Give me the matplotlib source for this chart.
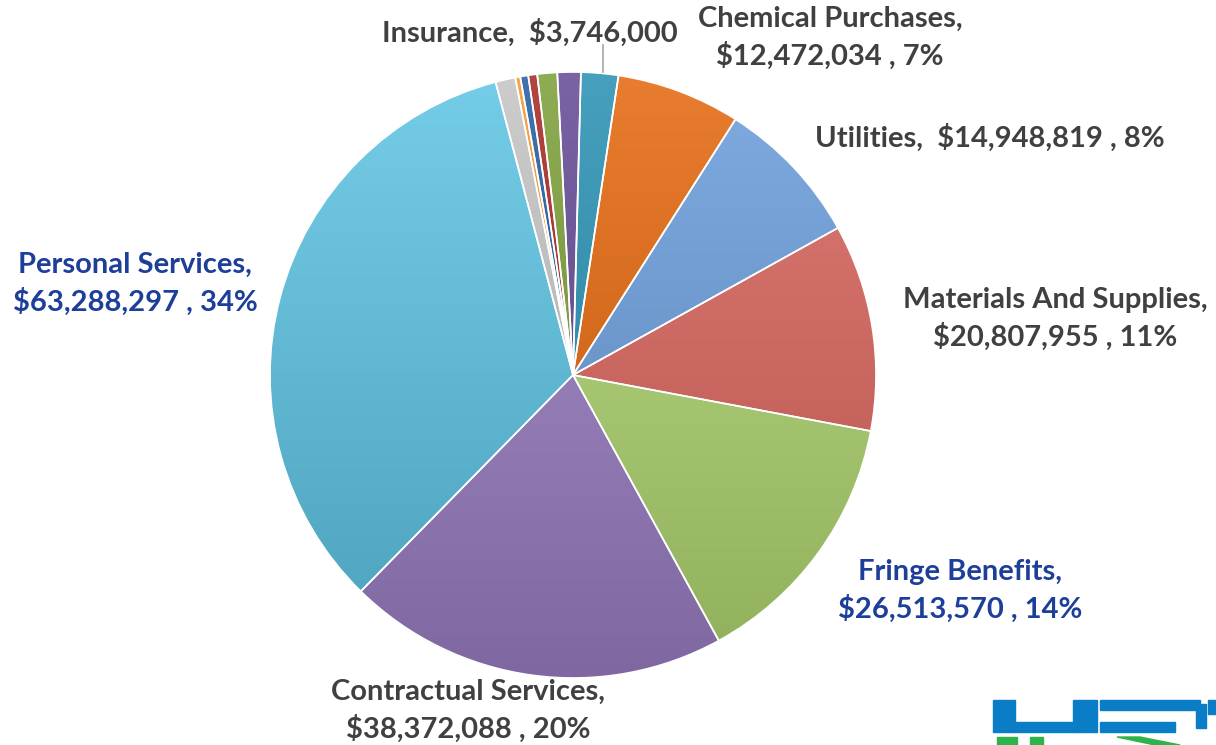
import numpy as np
import matplotlib
matplotlib.use("Agg")
import matplotlib.pyplot as plt
from matplotlib.colors import to_rgb
from matplotlib.patches import Rectangle, Polygon

# Expense categories, clockwise from the top of the pie
categories = ["Insurance", "Chemical Purchases", "Utilities", "Materials And Supplies",
              "Fringe Benefits", "Contractual Services", "Personal Services",
              "Other A", "Other B", "Other C", "Other D", "Other E", "Other F"]
amounts = [3746000, 12472034, 14948819, 20807955,
           26513570, 38372088, 63288297,
           2000000, 500000, 800000, 900000, 2000000, 2350000]
colors = ["#2690B2", "#E5660A", "#6A9DDC", "#DA645C",
          "#B0D670", "#9B7EC4", "#5CC4E4",
          "#C4C4C4", "#F7962E", "#1F5AA0", "#A8241F", "#7A9E36", "#624894"]

W, H = 1216, 745
fig = plt.figure(figsize=(W / 100, H / 100), dpi=100)
fig.patch.set_facecolor("white")

cx, cy, r = 573, 375, 303
ax = fig.add_axes([(cx - r) / W, (H - cy - r) / H, 2 * r / W, 2 * r / H])
ax.axis("off")

wedges, _ = ax.pie(amounts, colors=colors, startangle=88.5, counterclock=False,
                   radius=1.0, wedgeprops=dict(edgecolor="white", linewidth=1.2))

# vertical shading inside each wedge: lighter toward the top, darker toward the bottom
t = np.linspace(0, 1, 256)[:, None]
for w, c in zip(wedges, colors):
    base = np.array(to_rgb(c))
    light = base + (1 - base) * 0.15
    dark = base * 0.82
    grad = light[None, None, :] * (1 - t[..., None]) + dark[None, None, :] * t[..., None]
    grad = np.repeat(grad, 2, axis=1)
    im = ax.imshow(grad, extent=[-1, 1, -1, 1], origin="upper", zorder=1.5,
                   interpolation="bilinear")
    im.set_clip_path(w)
    w.set_zorder(2)
    w.set_facecolor("none")
ax.set_xlim(-1, 1)
ax.set_ylim(-1, 1)
ax.set_aspect("equal")

total = sum(amounts)


def px(x, y):
    return x / W, 1 - y / H


def label_text(i, pct=True):
    s = f"{categories[i]},\n${amounts[i]:,}"
    if pct:
        s += f" , {round(100 * amounts[i] / total)}%"
    return s


gray = "#404040"
navy = "#1E3F99"
font = dict(family="Lato", fontweight="bold", fontsize=21, linespacing=1.4,
            ha="center", va="center")

fig.text(*px(530, 33), f"{categories[0]},  ${amounts[0]:,}", color=gray, **font)
fig.text(*px(830, 38), label_text(1), color=gray, **font)
fig.text(*px(990, 138), label_text(2).replace(",\n", ",  "), color=gray, **font)
fig.text(*px(1055, 319), label_text(3), color=gray, **font)
fig.text(*px(960, 591), label_text(4), color=navy, **font)
fig.text(*px(468, 711), label_text(5), color=gray, **font)
fig.text(*px(135, 284), label_text(6), color=navy, **font)

# leader line for the insurance label
ax.plot([(603 - cx) / r] * 2, [(cy - 45) / r, (cy - 72) / r], color="#A6A6A6",
        lw=1.2, clip_on=False, zorder=3)

# corner logo fragment
blue, green = "#0A7DC6", "#2DB34A"
for (x, y, w_, h_) in [(993, 700, 22, 32), (1015, 722, 58, 10), (1073, 700, 24, 32),
                       (1100, 700, 100, 10), (1100, 722, 75, 10), (1196, 704, 10, 24),
                       (1208, 700, 8, 14)]:
    fig.patches.append(Rectangle(px(x, y + h_), w_ / W, h_ / H, color=blue,
                                 transform=fig.transFigure))
for (x, y, w_, h_) in [(997, 737, 20, 8), (1030, 737, 13, 8)]:
    fig.patches.append(Rectangle(px(x, y + h_), w_ / W, h_ / H, color=green,
                                 transform=fig.transFigure))
fig.patches.append(Polygon([px(1117, 737), px(1140, 737), px(1180, 745), px(1155, 745)],
                           closed=True, color=green, transform=fig.transFigure))

fig.savefig("out.png", dpi=100, facecolor="white")
